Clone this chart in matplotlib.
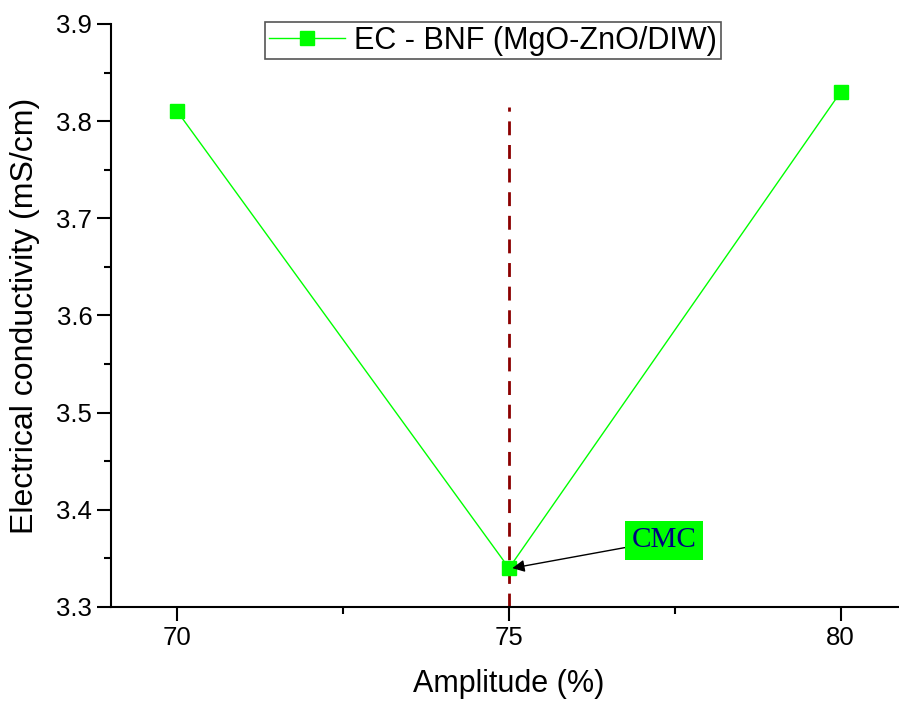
import matplotlib
matplotlib.use("Agg")
import matplotlib.pyplot as plt
from matplotlib.ticker import MultipleLocator

amplitude = [70, 75, 80]
conductivity = [3.81, 3.34, 3.83]
cmc_x = 75
cmc_y = 3.34
cmc_line_top = 3.815

plt.rcParams['font.family'] = ['Liberation Sans', 'DejaVu Sans']

fig = plt.figure(figsize=(8.99, 7.02), dpi=100)
ax = fig.add_axes([111/899, 1 - 607/702, (907 - 111)/899, 583/702])

ax.plot(amplitude, conductivity, color='#00ff00', lw=1, marker='s',
        markersize=10, markerfacecolor='#00ff00', markeredgecolor='#00ff00',
        label='EC - BNF (MgO-ZnO/DIW)', zorder=3)

ax.vlines(cmc_x, 3.3, cmc_line_top, colors='#8b0000', linestyles=(0, (5, 3.5)),
          lw=2, zorder=2)

ax.annotate('CMC', xy=(cmc_x + 0.05, cmc_y), xytext=(76.85, 3.3685),
            fontsize=21, family='Liberation Serif', color='#000080',
            va='center', ha='left',
            bbox=dict(boxstyle='square,pad=0.22', fc='#00ff00', ec='none'),
            arrowprops=dict(arrowstyle='-|>', color='black', lw=1,
                            mutation_scale=18, shrinkA=0, shrinkB=0))

ax.set_xlim(69, 81)
ax.set_ylim(3.3, 3.9)
ax.xaxis.set_major_locator(MultipleLocator(5))
ax.xaxis.set_minor_locator(MultipleLocator(2.5))
ax.yaxis.set_major_locator(MultipleLocator(0.1))
ax.yaxis.set_minor_locator(MultipleLocator(0.05))
ax.set_yticklabels([f'{v:.1f}' for v in ax.get_yticks()])

for s in ['top', 'right']:
    ax.spines[s].set_visible(False)
for s in ['left', 'bottom']:
    ax.spines[s].set_linewidth(1.5)

ax.tick_params(which='major', direction='out', length=10, width=1.5, labelsize=18.5)
ax.tick_params(which='minor', direction='out', length=5, width=1.5)

ax.set_xlabel('Amplitude (%)', fontsize=22, labelpad=14)
ax.set_ylabel('Electrical conductivity (mS/cm)', fontsize=23, labelpad=12)

leg = ax.legend(loc='upper left', bbox_to_anchor=(265/899, 1 - 22/702),
                bbox_transform=fig.transFigure, fontsize=22, frameon=True,
                fancybox=False, edgecolor='#555555', framealpha=1,
                handlelength=2.5, borderpad=0.12, handletextpad=0.3,
                borderaxespad=0)
leg.get_frame().set_linewidth(1.2)

fig.savefig('out.png', dpi=100)
